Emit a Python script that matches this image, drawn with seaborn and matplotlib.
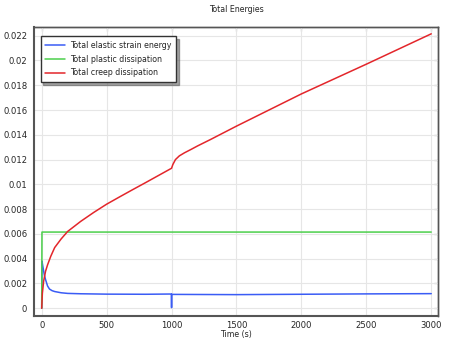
import numpy as np
import pandas as pd
import matplotlib
matplotlib.use("Agg")
import matplotlib.pyplot as plt
import seaborn as sns
from matplotlib.ticker import FuncFormatter, MultipleLocator

# ---- data ----
elastic_t = [0, 2, 10, 20, 30, 45, 60, 80, 100, 150, 200, 300, 500, 800, 999, 1000, 1001,
             1500, 2000, 2500, 3000]
elastic_v = [0.0, 0.0038, 0.0033, 0.0027, 0.0023, 0.0018, 0.00155, 0.00142, 0.00135, 0.00125,
             0.00120, 0.00117, 0.00114, 0.00113, 0.00115, 0.00005, 0.00112,
             0.00110, 0.00113, 0.00116, 0.00118]

plastic_t = [0, 2, 3000]
plastic_v = [0.0, 0.00615, 0.00615]

creep_t = [0, 5, 15, 30, 45, 70, 100, 150, 200, 300, 400, 500, 600, 700, 800, 900, 1000,
           1010, 1030, 1060, 1100, 1150, 1200, 1300, 1500, 1750, 2000, 2500, 3000]
creep_v = [0.0, 0.0012, 0.0022, 0.0030, 0.0035, 0.0042, 0.0049, 0.0056, 0.0062, 0.00701,
           0.00773, 0.0084, 0.00899, 0.00957, 0.01014, 0.01072, 0.01130,
           0.01160, 0.01200, 0.01230, 0.01255, 0.01282, 0.01310, 0.01362, 0.01470,
           0.01600, 0.01730, 0.01970, 0.02215]

series_names = ["Total elastic strain energy", "Total plastic dissipation", "Total creep dissipation"]
series_colors = ["#3a5cf5", "#4ccf4c", "#e3262b"]

x_ticks = [0, 500, 1000, 1500, 2000, 2500, 3000]

frames = []
for name, t, v in zip(series_names, [elastic_t, plastic_t, creep_t], [elastic_v, plastic_v, creep_v]):
    frames.append(pd.DataFrame({"Time": t, "Energy": v, "Series": name}))
df = pd.concat(frames, ignore_index=True)

sns.set_style("white")
plt.rcParams["font.family"] = ["DejaVu Sans"]
FS = 5.7

fig = plt.figure(figsize=(4.49, 3.41), dpi=100)
ax = fig.add_axes([0.0764, 0.0742, 0.8991, 0.8466])

sns.lineplot(data=df, x="Time", y="Energy", hue="Series", palette=dict(zip(series_names, series_colors)),
             estimator=None, sort=False, linewidth=1.1, ax=ax)

ax.set_xlim(-57, 3052)
ax.set_ylim(-0.0006, 0.0227)
ax.set_xticks(x_ticks)
ax.yaxis.set_major_locator(MultipleLocator(0.002))
ax.yaxis.set_major_formatter(FuncFormatter(lambda v, p: format(round(v, 5), "g")))
ax.grid(True, color="#e6e6e6", linewidth=0.8)
ax.set_axisbelow(True)

ax.set_title("Total Energies", fontsize=FS, pad=11)
ax.set_xlabel("Time (s)", fontsize=FS, labelpad=-0.5)
ax.set_ylabel("")

for s in ax.spines.values():
    s.set_color("#555555")
    s.set_linewidth(1.0)
ax.spines["left"].set_linewidth(1.5)
ax.spines["bottom"].set_linewidth(1.5)

ax.tick_params(axis="x", direction="in", length=3, width=0.8, labelsize=FS + 0.4, pad=4, color="#444444")
ax.tick_params(axis="y", direction="out", length=3, width=0.8, labelsize=FS + 0.4, pad=2, color="#444444")

sec_x = ax.secondary_xaxis("top")
sec_x.set_xticks(x_ticks)
sec_x.tick_params(direction="in", length=3, width=0.8, labeltop=False, color="#444444")
sec_y = ax.secondary_yaxis("right")
sec_y.yaxis.set_major_locator(MultipleLocator(0.002))
sec_y.tick_params(direction="in", length=3, width=0.8, labelright=False, color="#444444")
for sec in (sec_x, sec_y):
    for s in sec.spines.values():
        s.set_color("#555555")
        s.set_linewidth(1.0)

leg = ax.legend(loc="upper left", bbox_to_anchor=(0.0, 0.99), fontsize=FS, frameon=True,
                fancybox=False, shadow=True, borderpad=0.6, handlelength=2.5,
                handletextpad=0.6, labelspacing=0.6, borderaxespad=0.8)
leg.get_frame().set_edgecolor("#333333")
leg.get_frame().set_linewidth(1.0)

fig.savefig("out.png", dpi=100)
